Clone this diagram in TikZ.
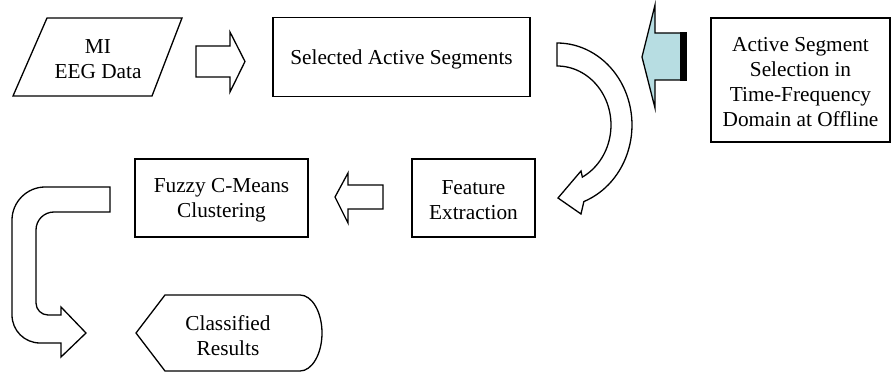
\documentclass[tikz,border=0pt]{standalone}
\usepackage{fontspec}
\setmainfont{Liberation Serif}
\definecolor{arrowblue}{RGB}{183,221,226}
\begin{document}
\begin{tikzpicture}[x=1pt,y=-1pt,line join=miter,
  lbl/.style={align=center,inner sep=0pt,font=\fontsize{21.3}{25}\selectfont},
  boxnode/.style={draw,line width=1.3pt,align=center,inner sep=0pt,font=\fontsize{21.3}{25}\selectfont},
  txt/.style={align=center,inner sep=0pt,font=\fontsize{21.3}{25}\selectfont},
  blockarrow/.style={draw,line width=1.3pt,fill=white}]
\useasboundingbox (0,0) rectangle (895,374);
% MI EEG data (parallelogram)
\draw[line width=1.3pt] (47,18) -- (182,18) -- (152,96) -- (13,96) -- cycle;
\node[lbl] (mi) at (98,59) {MI\\EEG Data};
% Selected Active Segments
\node[draw,line width=1.3pt,minimum width=257pt,minimum height=79pt] (sel) at (401.5,57) {};
\node[txt] (selt) at (401.5,59) {Selected Active Segments};
% Active Segment Selection
\node[draw,line width=1.3pt,minimum width=179pt,minimum height=124pt] (ass) at (800.5,80) {};
\node[txt] (asst) at (800.5,82) {Active Segment\\Selection in\\Time-Frequency\\Domain at Offline};
% Feature Extraction
\node[draw,line width=1.3pt,minimum width=123pt,minimum height=78pt] (fe) at (473.5,198) {};
\node[txt] (fet) at (473.5,200) {Feature\\Extraction};
% Fuzzy C-Means
\node[draw,line width=1.3pt,minimum width=173pt,minimum height=78pt] (fcm) at (221.5,198) {};
\node[txt] (fcmt) at (221.5,200) {Fuzzy C-Means\\Clustering};
% Classified Results (display shape)
\draw[line width=1.3pt] (136,333) -- (165,295) -- (300,295)
  .. controls (312,295) and (322,312) .. (322,333)
  .. controls (322,354) and (312,371) .. (300,371) -- (165,371) -- cycle;
\node[lbl] (cr) at (228,336) {Classified\\Results};
% block arrow MI -> Selected
\draw[blockarrow] (196,46) -- (230,46) -- (230,32) -- (245,61.5) -- (230,92) -- (230,77) -- (196,77) -- cycle;
% blue arrow from Active Segment Selection
\fill[arrowblue] (642,57) -- (655,5) -- (655,33) -- (680,33) -- (680,80) -- (655,80) -- (655,108) -- cycle;
\draw[line width=1.3pt] (680,33) -- (655,33) -- (655,5) -- (642,57) -- (655,108) -- (655,80) -- (680,80);
\fill[black] (679.5,32.4) rectangle (687,80.6);
% curved arrow Selected -> Feature
\draw[blockarrow] (557,43)
  -- plot[domain=90:-69,samples=50] ({557+75*cos(\x)},{125-82*sin(\x)})
  -- (581,214) -- (558,198) -- (581,171)
  -- plot[domain=-62:90,samples=50] ({557+54*cos(\x)},{125-59*sin(\x)})
  -- cycle;
% block arrow Feature -> FCM
\draw[blockarrow] (383,185) -- (348,185) -- (348,173) -- (335,197) -- (348,223) -- (348,209) -- (383,209) -- cycle;
% U-turn arrow FCM -> Classified
\draw[blockarrow] (110,187) -- (45,187) .. controls (27,187) and (12,202) .. (12,220)
  -- (12,315) .. controls (12,330.5) and (24.5,343) .. (40,343)
  -- (61,343) -- (61,357) -- (86,333) -- (61,307) -- (61,315) -- (48,315)
  .. controls (41.4,315) and (36,309.6) .. (36,303)
  -- (36,230) .. controls (36,220) and (44,212) .. (54,212) -- (110,212) -- cycle;
\end{tikzpicture}
\end{document}
